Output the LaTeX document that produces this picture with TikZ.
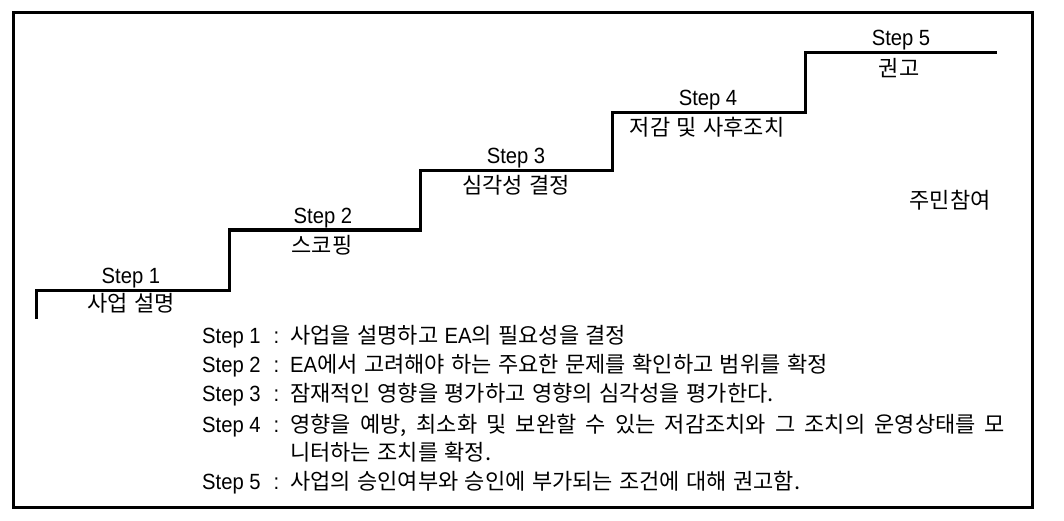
\documentclass[tikz,border=0pt]{standalone}
\usepackage{fontspec}
\setmainfont{Noto Sans CJK KR}[WordSpace=1.3]
\newfontfamily\lf{Liberation Sans}[FakeStretch=0.92]
\begin{document}
\begin{tikzpicture}[x=1pt,y=-1pt,
  ko/.style={inner sep=0pt,anchor=base,font=\fontsize{22pt}{26pt}\selectfont},
  la/.style={inner sep=0pt,anchor=base,font=\lf\fontsize{22pt}{25pt}\selectfont},
  lw/.style={inner sep=0pt,anchor=base west,font=\lf\fontsize{22pt}{25pt}\selectfont},
  kw/.style={inner sep=0pt,anchor=base west,font=\fontsize{22pt}{26pt}\selectfont},
  thick line/.style={line width=3pt,line join=miter,line cap=butt}]
\useasboundingbox (0,0) rectangle (1064,521);
\draw[thick line] (13,13) rectangle (1032,507);
% staircase corners
\coordinate (s0) at (36,319);
\coordinate (a1) at (36,290);  \coordinate (b1) at (229,290);
\coordinate (a2) at (229,230); \coordinate (b2) at (420,230);
\coordinate (a3) at (420,171); \coordinate (b3) at (612,171);
\coordinate (a4) at (612,113); \coordinate (b4) at (805,113);
\coordinate (a5) at (805,53);  \coordinate (b5) at (997,53);
\draw[thick line] (s0) -- (a1) -- (b1) -- (a2) -- (b2) -- (a3) -- (b3) -- (a4) -- (b4) -- (a5) -- (b5);
% labels on stairs
\node[la] (t1) at (131,283) {Step 1};
\node[ko] (k1) at (131,311) {사업 설명};
\node[la] (t2) at (323,223) {Step 2};
\node[ko] (k2) at (322,253) {스코핑};
\node[la] (t3) at (516,164) {Step 3};
\node[ko] (k3) at (516,194) {심각성 결정};
\node[la] (t4) at (708,106) {Step 4};
\node[ko] (k4) at (707,136) {저감 및 사후조치};
\node[la] (t5) at (901,46) {Step 5};
\node[ko] (k5) at (899,77) {권고};
\node[ko] (pp) at (950,208) {주민참여};
% legend text
\node[lw] (l1) at (202,343) {Step 1\hspace{13pt}:};
\node[kw] (d1) at (290,343) {사업을 설명하고 {\lf EA}의 필요성을 결정};
\node[lw] (l2) at (202,372) {Step 2\hspace{13pt}:};
\node[kw] (d2) at (290,372) {{\lf EA}에서 고려해야 하는 주요한 문제를 확인하고 범위를 확정};
\node[lw] (l3) at (202,401) {Step 3\hspace{13pt}:};
\node[kw] (d3) at (290,401) {잠재적인 영향을 평가하고 영향의 심각성을 평가한다.};
\node[lw] (l4) at (202,432) {Step 4\hspace{13pt}:};
\node[kw] (d4) at (290,432) {\makebox[715pt][s]{영향을 예방, 최소화 및 보완할 수 있는 저감조치와 그 조치의 운영상태를 모}};
\node[kw] (d4b) at (290,460) {니터하는 조치를 확정.};
\node[lw] (l5) at (202,489) {Step 5\hspace{13pt}:};
\node[kw] (d5) at (290,489) {사업의 승인여부와 승인에 부가되는 조건에 대해 권고함.};
\end{tikzpicture}
\end{document}
